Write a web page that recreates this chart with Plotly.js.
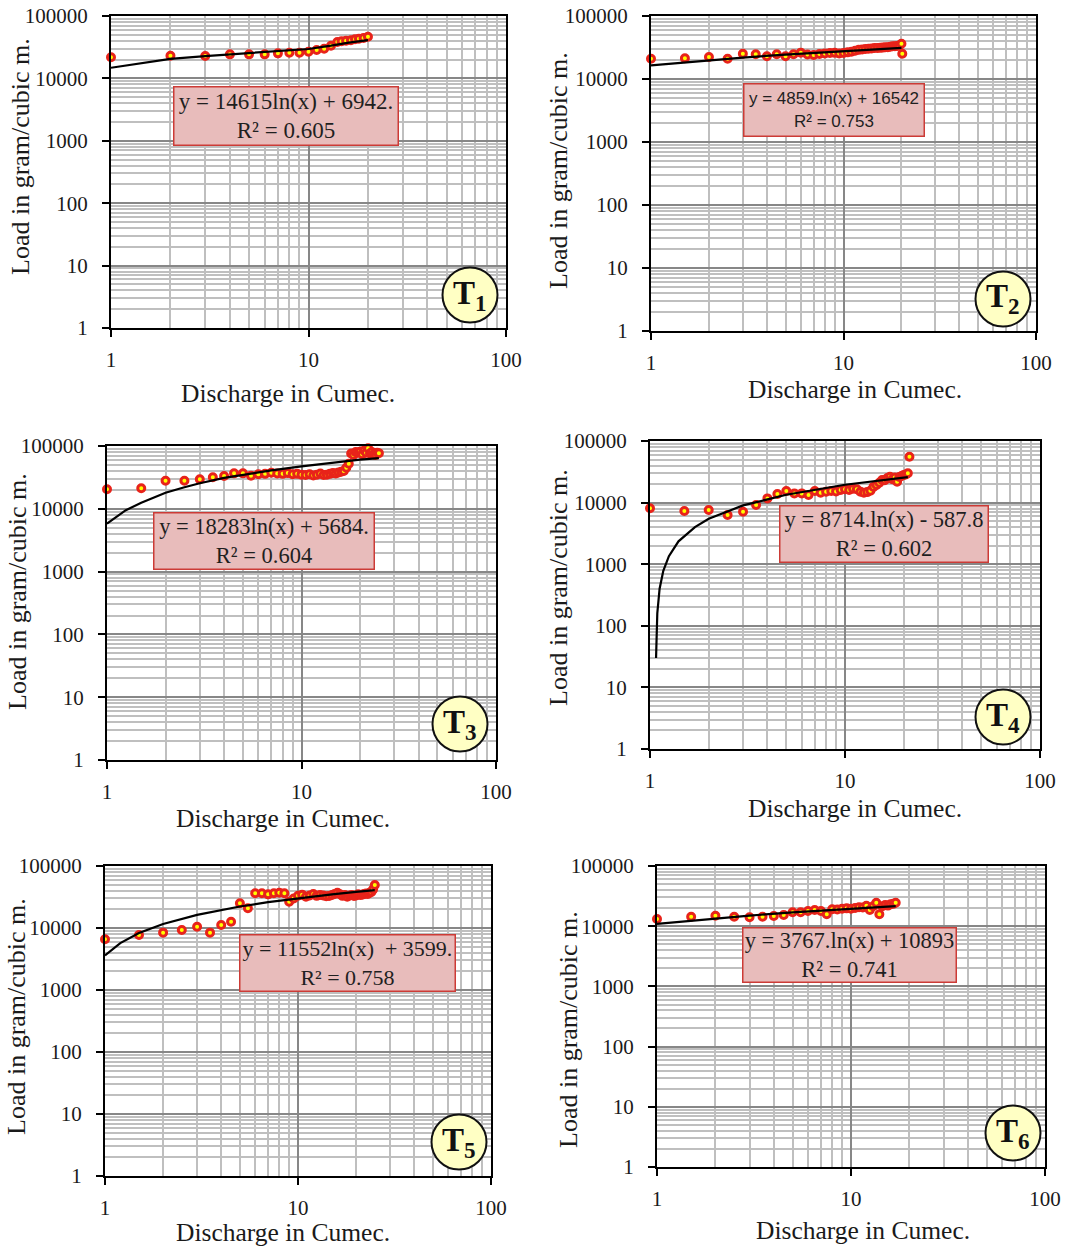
<!DOCTYPE html>
<html><head><meta charset="utf-8">
<script src="https://cdn.plot.ly/plotly-3.0.1.min.js"></script>
<style>html,body{margin:0;padding:0;background:#fff}#chart{width:1068px;height:1249px}</style>
</head><body><div id="chart"></div>
<script>
// ---------- DATA ----------
const xTickVals = [1, 10, 100];
const xTickText = ['1', '10', '100'];
const yTickVals = [1, 10, 100, 1000, 10000, 100000];
const yTickText = ['1', '10', '100', '1000', '10000', '100000'];
const xMinorVals = [2,3,4,5,6,7,8,9,20,30,40,50,60,70,80,90];
const yMinorVals = [2,3,4,5,6,7,8,9,20,30,40,50,60,70,80,90,200,300,400,500,600,700,800,900,
  2000,3000,4000,5000,6000,7000,8000,9000,20000,30000,40000,50000,60000,70000,80000,90000];

const xTitleText = 'Discharge in Cumec.';
const yTitleText = 'Load in gram/cubic m.';
const panelNames = ['1', '2', '3', '4', '5', '6'];
const equations = ['y = 14615ln(x) + 6942.', 'y = 4859.ln(x) + 16542', 'y = 18283ln(x) + 5684.',
  'y = 8714.ln(x) - 587.8', 'y = 11552ln(x)  + 3599.', 'y = 3767.ln(x) + 10893'];
const rSquared = ['0.605', '0.753', '0.604', '0.602', '0.758', '0.741'];

const T1_x = [1,2,3,4,5,6,7,8,9,10,11,12,13,14,14.7,15.5,16.4,17.2,18,19,20];
const T1_y = [21800,23100,22850,24300,24300,24300,25200,25800,25800,26800,28500,29900,33400,38300,39300,40200,40800,42300,43300,44400,46600];
const T1_fit_x = [1,2,3,5,7,10,13,16,20];
const T1_fit_y = [14800,20500,22800,25500,27300,29600,33500,37500,41000];

const T2_x = [1,1.5,2,2.5,3,3.5,4,4.5,5,5.5,6,6.5,7,7.5,8,8.5,9,9.5,10,10.5,11,11.5,12,12.5,13,13.5,14,14.5,15,15.5,16,16.5,17,17.5,18,18.5,19,19.5,20,20.2];
const T2_y = [21000,21300,22300,21000,25200,24700,22900,24700,22900,24700,26200,24500,24000,25000,25500,25800,26000,25500,25800,26500,27000,28000,29000,29500,30000,30200,30500,31000,31000,31200,31500,32000,32000,32500,33000,33000,33500,34000,36300,25200];
const T2_fit_x = [1,2,3,5,7,10,15,20];
const T2_fit_y = [16500,19900,21900,24400,26000,27700,29700,31100];

const T3_x = [1,1.5,2,2.5,3,3.5,4,4.5,5,5.5,6,6.5,7,7.5,8,8.5,9,9.5,10,10.5,11,11.5,12,12.5,13,13.5,14,14.5,15,15.5,16,16.5,17,17.5,18,18.5,19,19.5,20,20.5,21,21.5,22,22.5,23,23.5,24,24.5,25];
const T3_y = [20450,21200,28000,28000,29500,31700,33300,36700,36700,33700,35400,36000,37600,36500,36000,37000,35500,36000,35000,34500,35500,34000,35000,36500,34500,35000,36000,37000,36500,38000,39000,40000,45000,52000,76000,72000,80000,78000,81000,74000,85000,78000,92000,76000,80000,74000,72000,78000,77000];
const T3_fit_x = [1,1.25,1.5,2,2.5,3,4,5,7,10,15,20,25];
const T3_fit_y = [5800,9500,12500,18000,22000,25500,31000,35000,41000,47500,55000,60500,64000];

const T4_x = [1,1.5,2,2.5,3,3.5,4,4.5,5,5.5,6,6.5,7,7.5,8,8.5,9,9.5,10,10.5,11,11.5,12,12.5,13,13.5,14,14.5,15,15.5,16,16.5,17,17.5,18,18.5,19,19.5,20,20.5,21,21.4];
const T4_y = [8080,7310,7590,6290,7110,9140,11700,13800,15400,14100,14100,13300,15400,14500,15000,15500,15200,16000,16500,16000,16800,16500,15000,14500,14800,15600,18000,19300,21000,23300,23000,25000,26300,24000,25500,21900,26000,27000,28000,28500,29900,55600];
const T4_fit_x = [1.074,1.09,1.12,1.17,1.25,1.4,1.7,2,3,5,10,15,21];
const T4_fit_y = [30,160,400,780,1350,2350,4000,5450,9000,13400,19500,23000,26000];

const T5_x = [1,1.5,2,2.5,3,3.5,4,4.5,5,5.5,6,6.5,7,7.5,8,8.5,9,9.5,10,10.5,11,11.5,12,12.5,13,13.5,14,14.5,15,15.5,16,16.5,17,17.5,18,18.5,19,19.5,20,20.5,21,21.5,22,22.5,23,23.5,24,24.5,25];
const T5_y = [6580,7710,8410,9300,10500,8410,11200,12600,25000,20800,36300,36300,34900,36300,37100,36300,26600,30000,33200,34500,32000,33500,35300,33000,34100,33500,32500,32800,34000,35500,37100,35000,33000,34000,32000,33500,34000,32800,33500,35000,34100,34500,35500,36000,35300,37000,38000,42000,49400];
const T5_fit_x = [1,1.2,1.5,2,3,4,5,7,10,15,20,25];
const T5_fit_y = [3600,5700,8300,11600,16300,19600,22200,26100,30200,34900,38200,40800];

const T6_x = [1,1.5,2,2.5,3,3.5,4,4.5,5,5.5,6,6.5,7,7.5,8,8.5,9,9.5,10,10.5,11,11.5,12,12.5,13,13.5,14,14.5,15,15.5,16,16.5,17];
const T6_y = [13180,14400,14950,14400,14060,14400,14770,15350,17000,17000,17900,18600,17900,15750,19100,19000,19500,19800,19500,20000,20600,20500,21900,18600,21500,24600,15750,21500,22500,22000,23100,23500,24600];
const T6_fit_x = [1,2,3,5,7,10,13,17];
const T6_fit_y = [10900,13500,15000,17000,18200,19600,20600,21600];

// ---------- LAYOUT (pixel positions in the 1068x1249 page) ----------
const W = 1068, H = 1249;
const fx = v => v / W;
const fy = v => 1 - v / H;
const serif = 'Liberation Serif, Times New Roman, serif';
const sans = 'Liberation Sans, Arial, sans-serif';

const series = [
  [T1_x, T1_y, T1_fit_x, T1_fit_y], [T2_x, T2_y, T2_fit_x, T2_fit_y],
  [T3_x, T3_y, T3_fit_x, T3_fit_y], [T4_x, T4_y, T4_fit_x, T4_fit_y],
  [T5_x, T5_y, T5_fit_x, T5_fit_y], [T6_x, T6_y, T6_fit_x, T6_fit_y]
];
const geo = [
  {plot:[111,506,16,328],  box:[173,399,86,146],  circ:[470,295],  xt:[288,394],  yt:[20,157],   boxFont:serif, boxSize:23},
  {plot:[651,1036,16,331], box:[743,925,83,137],  circ:[1003,299], xt:[855,389],  yt:[558,171],  boxFont:sans,  boxSize:17},
  {plot:[107,496,446,760], box:[153,375,512,570], circ:[460,724],  xt:[283,818],  yt:[17,592],   boxFont:serif, boxSize:22.5},
  {plot:[650,1040,441,749],box:[779,989,505,563], circ:[1003,717], xt:[855,808],  yt:[558,588],  boxFont:serif, boxSize:22.5},
  {plot:[105,491,866,1176],box:[239,456,934,992], circ:[459,1142], xt:[283,1232], yt:[17,1017],  boxFont:serif, boxSize:22},
  {plot:[657,1045,866,1167],box:[742,957,927,983],circ:[1013,1133],xt:[863,1230], yt:[568,1030], boxFont:serif, boxSize:22.5}
];

const traces = [];
const layout = {
  width: W, height: H, margin: {l:0, r:0, t:0, b:0},
  paper_bgcolor: '#fff', plot_bgcolor: '#fff', showlegend: false,
  font: {family: serif, color: '#1a1a1a'},
  annotations: [], shapes: []
};

series.forEach((s, i) => {
  const g = geo[i];
  const n = i === 0 ? '' : String(i + 1);
  const xa = 'x' + n, ya = 'y' + n;
  traces.push({
    x: s[0], y: s[1], xaxis: xa, yaxis: ya, type: 'scatter', mode: 'markers',
    marker: {size: 7, color: '#ffff00', line: {color: '#e8231a', width: 3}},
    cliponaxis: false, hoverinfo: 'skip'
  });
  traces.push({
    x: s[2], y: s[3], xaxis: xa, yaxis: ya, type: 'scatter', mode: 'lines',
    line: {color: '#000', width: 2.2}, cliponaxis: false, hoverinfo: 'skip'
  });
  const common = {
    type: 'log', tickmode: 'array', ticks: 'outside', ticklen: 7, tickwidth: 2, tickcolor: '#000',
    showline: true, linecolor: '#000', linewidth: 2, mirror: true,
    showgrid: true, gridcolor: '#878787', gridwidth: 2, zeroline: false,
    tickfont: {family: serif, size: 21, color: '#1a1a1a'}, fixedrange: true
  };
  layout['xaxis' + n] = Object.assign({}, common, {
    range: [0, 2], domain: [fx(g.plot[0]), fx(g.plot[1])], anchor: ya,
    tickvals: xTickVals, ticktext: xTickText, ticklabelstandoff: 5,
    minor: {tickmode: 'array', tickvals: xMinorVals, showgrid: true, gridcolor: '#bfbfbf', gridwidth: 2, ticks: ''}
  });
  layout['yaxis' + n] = Object.assign({}, common, {
    range: [0, 5], domain: [fy(g.plot[3]), fy(g.plot[2])], anchor: xa,
    tickvals: yTickVals, ticktext: yTickText, ticklabelstandoff: 10,
    minor: {tickmode: 'array', tickvals: yMinorVals, showgrid: true, gridcolor: '#bfbfbf', gridwidth: 2, ticks: ''}
  });
  // axis titles
  layout.annotations.push({
    xref: 'paper', yref: 'paper', x: fx(g.xt[0]), y: fy(g.xt[1]), xanchor: 'center', yanchor: 'middle',
    text: xTitleText, showarrow: false, font: {family: serif, size: 25.5, color: '#1a1a1a'}
  });
  layout.annotations.push({
    xref: 'paper', yref: 'paper', x: fx(g.yt[0]), y: fy(g.yt[1]), xanchor: 'center', yanchor: 'middle',
    text: yTitleText, textangle: -90, showarrow: false, font: {family: serif, size: 26, color: '#1a1a1a'}
  });
  // equation box
  const b = g.box;
  layout.annotations.push({
    xref: 'paper', yref: 'paper', x: fx((b[0] + b[1]) / 2), y: fy((b[2] + b[3]) / 2),
    xanchor: 'center', yanchor: 'middle', showarrow: false,
    width: b[1] - b[0] - 3, height: b[3] - b[2] - 3, align: 'center', valign: 'middle',
    text: equations[i] + '<br>R² = ' + rSquared[i],
    font: {family: g.boxFont, size: g.boxSize, color: '#1f1f1f'},
    bgcolor: '#e8bcbb', bordercolor: '#cc3b36', borderwidth: 1.5, borderpad: 0
  });
  // panel label circle
  const c = g.circ, r = 27.5;
  layout.shapes.push({
    type: 'circle', xref: 'paper', yref: 'paper',
    x0: fx(c[0] - r), x1: fx(c[0] + r), y0: fy(c[1] + r), y1: fy(c[1] - r),
    fillcolor: '#ffffc4', line: {color: '#111', width: 2}
  });
  layout.annotations.push({
    xref: 'paper', yref: 'paper', x: fx(c[0]), y: fy(c[1]), xanchor: 'center', yanchor: 'middle',
    showarrow: false, text: '<b>T<sub>' + panelNames[i] + '</sub></b>',
    font: {family: serif, size: 33, color: '#111'}
  });
});

Plotly.newPlot('chart', traces, layout, {staticPlot: true, displayModeBar: false});
</script>
</body></html>
